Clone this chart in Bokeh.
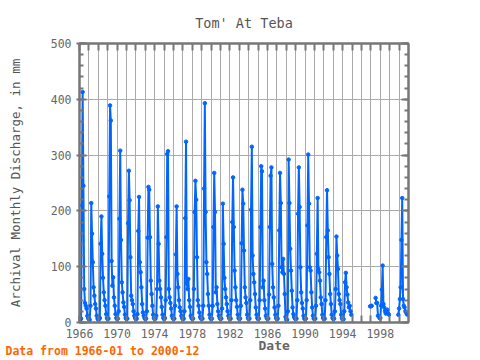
import math
from bokeh.plotting import figure
from bokeh.models import Range1d, FixedTicker, LinearAxis, Title, ColumnDataSource, SingleIntervalTicker
from bokeh.embed import file_html
from bokeh.resources import INLINE

nan = float("nan")

# Monthly discharge (mm), Jan..Dec
y1966 = [6, 5, 7, 210, 413, 245, 60, 35, 30, 25, 12, 8]
y1967 = [6, 5, 30, 214, 159, 108, 63, 48, 33, 25, 12, 7]
y1968 = [5, 6, 8, 141, 190, 123, 80, 54, 40, 30, 15, 8]
y1969 = [6, 7, 226, 389, 362, 110, 66, 81, 45, 30, 15, 8]
y1970 = [6, 7, 20, 186, 308, 148, 72, 54, 36, 28, 14, 8]
y1971 = [6, 7, 178, 272, 219, 117, 48, 40, 33, 20, 12, 8]
y1972 = [6, 7, 15, 164, 225, 108, 90, 63, 33, 18, 12, 8]
y1973 = [6, 7, 20, 152, 243, 238, 153, 75, 51, 30, 14, 8]
y1974 = [6, 7, 12, 60, 208, 141, 75, 60, 45, 28, 14, 8]
y1975 = [6, 8, 40, 153, 302, 307, 60, 45, 35, 25, 12, 8]
y1976 = [6, 7, 30, 122, 208, 87, 63, 40, 27, 20, 12, 8]
y1977 = [6, 7, 20, 187, 324, 70, 60, 78, 40, 28, 12, 8]
y1978 = [6, 7, 60, 198, 254, 220, 117, 40, 30, 18, 10, 7]
y1979 = [6, 7, 30, 240, 393, 198, 108, 87, 51, 30, 14, 8]
y1980 = [6, 7, 30, 171, 268, 198, 54, 63, 33, 20, 12, 8]
y1981 = [6, 7, 25, 213, 141, 80, 60, 45, 33, 20, 12, 8]
y1982 = [6, 7, 40, 180, 260, 171, 93, 63, 40, 28, 14, 8]
y1983 = [6, 7, 30, 142, 238, 213, 129, 63, 45, 35, 14, 8]
y1984 = [6, 7, 40, 202, 315, 120, 87, 72, 51, 27, 14, 8]
y1985 = [6, 7, 40, 171, 280, 271, 63, 75, 40, 25, 12, 8]
y1986 = [6, 7, 50, 171, 263, 278, 105, 63, 45, 27, 14, 8]
y1987 = [6, 7, 30, 165, 268, 214, 99, 90, 114, 87, 51, 10]
y1988 = [5, 5, 20, 292, 214, 132, 93, 57, 27, 15, 10, 7]
y1989 = [6, 7, 40, 195, 278, 207, 99, 54, 35, 25, 12, 7]
y1990 = [6, 7, 40, 174, 301, 213, 99, 93, 54, 27, 12, 7]
y1991 = [6, 7, 30, 123, 223, 96, 90, 75, 45, 33, 14, 8]
y1992 = [6, 7, 40, 153, 237, 165, 117, 87, 51, 33, 14, 8]
y1993 = [6, 7, 20, 60, 154, 120, 96, 51, 40, 33, 14, 8]
y1994 = [5, 6, 20, 72, 89, 63, 50, 36, 27, 30, 20, 14]
y1995 = [nan, nan, nan, nan, nan, nan, nan, nan, nan, nan, nan, nan]
y1996 = [nan, nan, nan, nan, nan, nan, nan, nan, nan, nan, nan, 29]
y1997 = [29, 30, nan, nan, nan, nan, 44, 35, 35, 12, nan, 8]
y1998 = [8, 30, 59, 102, 33, 27, 20, 16, 18, 23, 16, 14]
y1999 = [nan, nan, nan, nan, nan, nan, nan, nan, nan, nan, nan, 14]
y2000 = [25, 42, 63, 148, 223, 42, 30, 27, 20, 18, 15, 14]

years = list(range(1966, 2001))
yearly = [y1966, y1967, y1968, y1969, y1970, y1971, y1972, y1973, y1974,
          y1975, y1976, y1977, y1978, y1979, y1980, y1981, y1982, y1983,
          y1984, y1985, y1986, y1987, y1988, y1989, y1990, y1991, y1992,
          y1993, y1994, y1995, y1996, y1997, y1998, y1999, y2000]

label_years = [1966, 1970, 1974, 1978, 1982, 1986, 1990, 1994, 1998]

xs, ys = [], []
for yr, vals in zip(years, yearly):
    for m, v in enumerate(vals):
        xs.append(yr + m / 12.0)
        ys.append(v)

src = ColumnDataSource(dict(x=xs, y=ys))

FONT = "DejaVu Sans Mono"
GRAY = "#777777"

p = figure(width=480, height=360, output_backend="svg", toolbar_location=None,
           x_range=Range1d(1966, 2001), y_range=Range1d(0, 500),
           min_border_left=79, min_border_right=72, min_border_top=43,
           min_border_bottom=38, x_axis_location=None, y_axis_location=None)
p.background_fill_color = "white"
p.border_fill_color = "white"
p.outline_line_color = GRAY
p.outline_line_width = 2

p.title.text = "Tom' At Teba"
p.title.align = "center"
p.title.vertical_align = "top"
p.title.text_font = FONT
p.title.text_font_size = "13.5px"
p.title.text_font_style = "normal"
p.title.text_color = "#555555"
p.title.standoff = 22

def style(ax, labels=True):
    ax.axis_line_color = GRAY
    ax.axis_line_width = 2
    ax.major_tick_line_color = GRAY
    ax.minor_tick_line_color = GRAY
    ax.major_tick_line_width = 2
    ax.minor_tick_line_width = 2
    ax.major_label_text_font = FONT
    ax.major_label_text_font_size = "11.5px"
    ax.major_label_text_color = "#666666"
    if not labels:
        ax.major_label_text_font_size = "0px"
        ax.major_label_text_color = None

yt = SingleIntervalTicker(interval=100, num_minor_ticks=5)
for loc in ("left", "right"):
    ax = LinearAxis(ticker=yt)
    style(ax, labels=(loc == "left"))
    ax.major_tick_in = 7
    ax.major_tick_out = 3 if loc == "left" else 0
    ax.minor_tick_in = 4
    ax.minor_tick_out = 0
    ax.major_label_standoff = 5
    if loc == "left":
        ax.axis_label = "Archival Monthly Discharge, in mm"
        ax.axis_label_text_font = FONT
        ax.axis_label_text_font_size = "12.5px"
        ax.axis_label_text_font_style = "normal"
        ax.axis_label_text_color = "#555555"
        ax.axis_label_standoff = 25
    p.add_layout(ax, loc)

xt = FixedTicker(ticks=label_years, minor_ticks=years)
xb = LinearAxis(ticker=xt)
style(xb)
xb.major_tick_in = 7
xb.major_tick_out = 0
xb.minor_tick_in = 7
xb.minor_tick_out = 0
xb.major_label_standoff = 6
p.add_layout(xb, "below")

xtop = LinearAxis(ticker=FixedTicker(ticks=years))
style(xtop, labels=False)
xtop.major_tick_in = 7
xtop.major_tick_out = 0
xtop.minor_tick_in = 0
xtop.minor_tick_out = 0
p.add_layout(xtop, "above")

p.xgrid.ticker = FixedTicker(ticks=years)
p.ygrid.ticker = FixedTicker(ticks=[100, 200, 300, 400])
p.xgrid.grid_line_color = "#aaaaaa"
p.ygrid.grid_line_color = "#aaaaaa"
p.xgrid.grid_line_width = 1
p.ygrid.grid_line_width = 1

BLUE = "#0066ff"
p.line("x", "y", source=src, line_color=BLUE, line_width=2)
p.scatter("x", "y", source=src, size=3.5, color=BLUE)

date_title = Title(text="Date", align="left", offset=179, standoff=-7,
                   vertical_align="middle", text_font=FONT, text_font_size="13px",
                   text_font_style="bold", text_color="#666666")
p.add_layout(date_title, "below")
src_title = Title(text="Data from 1966-01 to 2000-12", align="left", offset=-74,
                  standoff=-15, vertical_align="middle", text_font=FONT,
                  text_font_size="11.5px", text_font_style="bold", text_color="#ff6600")
p.add_layout(src_title, "below")

open("out.html", "w").write(file_html(p, INLINE))
